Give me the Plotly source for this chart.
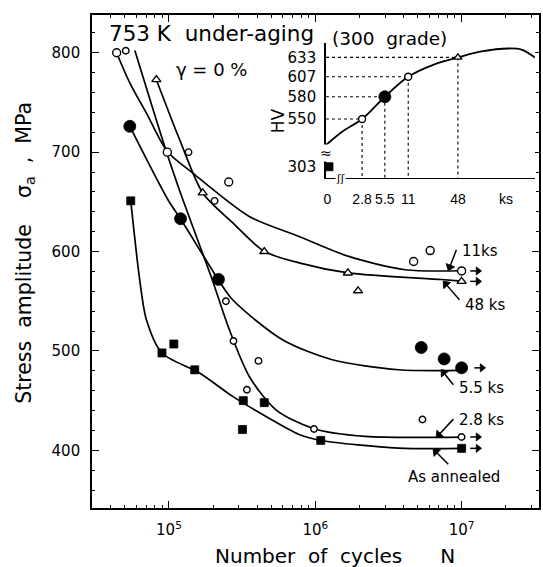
import math
import numpy as np
import plotly.graph_objects as go

# ---------------- main S-N data (measured points) ----------------
n_11ks = [43900, 97500, 256000, 4.7e6, 6.1e6, 1.0e7]
s_11ks = [800, 700, 670, 590, 601, 580.5]
n_28ks = [50700, 136000, 205000, 245000, 276000, 341000, 409000, 980000, 5.4e6, 1.0e7]
s_28ks = [802, 700, 651, 550, 510, 461, 490, 421.5, 431, 413.5]
n_48ks = [82000, 170000, 448000, 1.67e6, 1.96e6, 1.0e7]
s_48ks = [773, 659, 600, 578.5, 560.5, 570]
n_55ks = [54000, 120000, 218000, 5.3e6, 7.6e6, 1.0e7]
s_55ks = [726, 633, 572, 503.5, 492, 483]
n_ann = [54800, 89600, 108000, 150000, 318000, 322000, 448000, 1.09e6, 1.0e7]
s_ann = [651, 498, 507, 481, 421, 450, 448, 410, 402]

# ---------------- fitted S-N curves ----------------
cn_11ks = [43850, 54080, 70150, 97500, 145500, 354000, 774500, 1.694e6, 4.12e6, 1.0e7]
cs_11ks = [800, 769.5, 739.3, 700.7, 679, 635.3, 615.2, 595.1, 581.7, 580.7]
cn_28ks = [58480, 95940, 124500, 194100, 258800, 354000, 538300, 979500, 2.203e6, 1.0e7]
cs_28ks = [802.3, 700.7, 652.1, 574.9, 521.3, 474.3, 440.8, 421.7, 414, 413.4]
cn_48ks = [82030, 118300, 170200, 272300, 447700, 774500, 1.675e6, 7.26e6, 1.0e7]
cs_48ks = [772.9, 712.6, 659, 629.1, 600.3, 588.6, 578.6, 571.9, 570.2]
cn_55ks = [54080, 98400, 120200, 217800, 272300, 597000, 1.306e6, 3.707e6, 1.0e7]
cs_55ks = [725.9, 652.1, 632.7, 571.6, 551.5, 511.3, 491.2, 481.1, 480.4]
cn_ann = [54830, 63100, 70150, 89540, 161800, 272300, 460300, 774500, 1.099e6, 3.707e6, 1.0e7]
cs_ann = [650.8, 571.6, 531.4, 497.9, 477.8, 454.3, 434.1, 416, 409.9, 402.3, 401.9]

# ---------------- inset: hardness vs aging time ----------------
aging_ks = [0, 2.8, 5.5, 11, 48]
hv_vals = [303, 550, 580, 607, 633]
hv_curve_t = [0.96, 1.55, 2.8, 5.5, 11, 24.4, 48, 96.6, 214, 316, 470]
hv_curve = [515, 533, 550, 580, 607, 624, 633, 641, 645, 643.5, 633]
hv_break_offset = 182.8       # broken HV axis: 303 drawn just below the break
t_zero_pos = 1.05             # "0 ks" drawn at the break of the log time axis

x_ticks = [1e5, 1e6, 1e7]
x_ticktext = ["10<sup>5</sup>", "10<sup>6</sup>", "10<sup>7</sup>"]
y_ticks = [400, 500, 600, 700, 800]

# label pointers: tip on curve (N, S) and tail offset in pixels (right, down)
pointer_tips_N = [8.13e6, 7.52e6, 7.28e6, 6.73e6, 6.41e6]
pointer_tips_S = [581, 570, 481, 413, 401.2]
pointer_off = [(8, -20.7), (16, 18.3), (12, 15), (17, -18.3), (15, 15)]

# run-out arrows (unbroken at 1e7 cycles)
runout_N = [1.36e7, 1.36e7, 1.45e7, 1.36e7, 1.36e7]
runout_S = [s_11ks[-1], s_48ks[-1], s_55ks[-1], s_28ks[-1], s_ann[-1]]

FONT = "DejaVu Sans"
BLACK = "black"

# plot area in pixels
L, R, T, B = 92, 2, 15, 59
W, H = 543, 567
pw, ph = W - L - R, H - T - B
XR = [4.474, 7.529]
YR = [342, 838]
px_per_dec = pw / (XR[1] - XR[0])
px_per_mpa = ph / (YR[1] - YR[0])

fig = go.Figure()

def curve(n, s):
    fig.add_trace(go.Scatter(x=n, y=s, mode="lines",
                             line=dict(color=BLACK, width=1.7, shape="spline", smoothing=0.8),
                             hoverinfo="skip"))

for cn, cs in [(cn_11ks, cs_11ks), (cn_28ks, cs_28ks), (cn_48ks, cs_48ks),
               (cn_55ks, cs_55ks), (cn_ann, cs_ann)]:
    curve(cn, cs)

def pts(n, s, symbol, size, filled, xa="x", ya="y", angle=0):
    fig.add_trace(go.Scatter(
        x=n, y=s, mode="markers", xaxis=xa, yaxis=ya, hoverinfo="skip",
        marker=dict(symbol=symbol, size=size, opacity=1, angle=angle,
                    color=BLACK if filled else "white",
                    line=dict(color=BLACK, width=1.4 if not filled else 0.8))))

pts(n_11ks, s_11ks, "circle", 8, False)
pts(n_28ks, s_28ks, "circle", 6.5, False)
pts(n_48ks, s_48ks, "triangle-up", 8, False)
pts(n_55ks, s_55ks, "circle", 12, True)
pts(n_ann, s_ann, "square", 8, True)

def arrow(n_tip, s_tip, dx, dy, head=7):
    """dx, dy: pixel offset of the tail from the tip (right, down)."""
    length = math.hypot(dx, dy)
    ux, uy = -dx / length, -dy / length          # unit vector tail -> tip (screen)
    back = head * 0.45                           # centre of head slightly behind tip
    n_tail = n_tip * 10 ** (dx / px_per_dec)
    s_tail = s_tip - dy / px_per_mpa
    n_head = n_tip * 10 ** (-ux * back / px_per_dec)
    s_head = s_tip + uy * back / px_per_mpa
    n_line = n_tip * 10 ** (-ux * back * 1.2 / px_per_dec)
    s_line = s_tip + uy * back * 1.2 / px_per_mpa
    fig.add_trace(go.Scatter(x=[n_tail, n_line], y=[s_tail, s_line], mode="lines",
                             line=dict(color=BLACK, width=1.5), hoverinfo="skip"))
    ang = math.degrees(math.atan2(ux, -uy))
    pts([n_head], [s_head], "triangle-up", head, True, angle=ang)

for n, s, (dx, dy) in zip(pointer_tips_N, pointer_tips_S, pointer_off):
    arrow(n, s, dx, dy, 8)

for n, s in zip(runout_N, runout_S):
    arrow(n, s, -11, 0, 7)

# ---------------- inset traces ----------------
inset_xmin_log, inset_xmax_log = -0.018, 2.674
inset_ymin, inset_ymax = 470.2, 652.4
t_axis = 10 ** inset_xmin_log

for t, h in zip(aging_ks, hv_vals):
    if t == 0:
        continue
    fig.add_trace(go.Scatter(x=[t_axis, t], y=[h, h], mode="lines", xaxis="x2", yaxis="y2",
                             line=dict(color=BLACK, width=1.1, dash="dot"), hoverinfo="skip"))
    fig.add_trace(go.Scatter(x=[t, t], y=[h, inset_ymin], mode="lines", xaxis="x2", yaxis="y2",
                             line=dict(color=BLACK, width=1.1, dash="dot"), hoverinfo="skip"))

fig.add_trace(go.Scatter(x=hv_curve_t, y=hv_curve, mode="lines", xaxis="x2", yaxis="y2",
                         line=dict(color=BLACK, width=1.8, shape="spline"), hoverinfo="skip"))

inset_sym = ["square", "circle", "circle", "circle", "triangle-up"]
inset_size = [8, 7, 12, 7, 7]
inset_filled = [True, False, True, False, False]
for t, h, sym, sz, f in zip(aging_ks, hv_vals, inset_sym, inset_size, inset_filled):
    tx = t_zero_pos if t == 0 else t
    hy = h + hv_break_offset if t == 0 else h
    pts([tx], [hy], sym, sz, f, "x2", "y2")

# ---------------- layout ----------------
def px(x):
    return (x - L) / pw

def py(y):
    return (T + ph - y) / ph

fig.update_layout(
    width=W, height=H, margin=dict(l=L, r=R, t=T, b=B),
    paper_bgcolor="white", plot_bgcolor="white", showlegend=False,
    font=dict(family=FONT, color=BLACK),
    xaxis=dict(type="log", range=XR, tickvals=x_ticks, ticktext=x_ticktext,
               ticks="inside", ticklen=7, tickwidth=1.2, tickcolor=BLACK,
               showline=True, linecolor=BLACK, linewidth=1.6, mirror="ticks",
               showgrid=False, zeroline=False, tickfont=dict(size=15),
               ticklabelstandoff=7,
               minor=dict(ticks="inside", ticklen=3.5, dtick="D1", tickcolor=BLACK, showgrid=False)),
    yaxis=dict(range=YR, tickvals=y_ticks,
               ticks="inside", ticklen=7, tickwidth=1.2, tickcolor=BLACK,
               showline=True, linecolor=BLACK, linewidth=1.6, mirror="ticks",
               showgrid=False, zeroline=False, tickfont=dict(size=15),
               ticklabelstandoff=7,
               minor=dict(ticks="inside", ticklen=3.5, dtick=20, tickcolor=BLACK, showgrid=False)),
    xaxis2=dict(domain=[px(327), px(537)], anchor="y2", type="log",
                range=[inset_xmin_log, inset_xmax_log],
                tickvals=[1, 2.8, 5.5, 11, 48, 200], ticktext=["0", "2.8", "5.5", "11", "48", "ks"],
                tickangle=0,
                ticks="", showline=True, linecolor=BLACK, linewidth=1.3, showgrid=False,
                zeroline=False, tickfont=dict(size=14, family="Liberation Sans"),
                ticklabelstandoff=8),
    yaxis2=dict(domain=[py(178.3), py(43)], anchor="x2", range=[inset_ymin, inset_ymax],
                tickvals=[633, 607, 580, 550, 303 + hv_break_offset],
                ticktext=["633", "607", "580", "550", "303"],
                ticks="", showline=True, linecolor=BLACK, linewidth=1.5, showgrid=False,
                zeroline=False, tickfont=dict(size=15), ticklabelstandoff=5),
)

ann = []
def text(x, y, s, size, xanchor="center", angle=0):
    ann.append(dict(xref="paper", yref="paper", x=px(x), y=py(y), text=s, showarrow=False,
                    xanchor=xanchor, yanchor="middle", textangle=angle,
                    font=dict(size=size, family=FONT, color=BLACK)))

nb = "\u00a0"
text(107, 34, "753 K" + nb * 2 + "under-aging", 21.5, "left")
text(331, 38.5, "(300" + nb * 2 + "grade)", 18.5, "left")
text(212.5, 69.5, "γ = 0 %", 18)
text(279, 121, "HV", 17, angle=-90)
text(24, 252.5, "Stress" + nb * 2 + "amplitude" + nb * 4 + "σ<sub>a</sub>" + nb * 2 + "," + nb * 2 + "MPa",
     20.5, angle=-90)
text(336.5, 556, "Number" + nb * 2 + "of" + nb * 2 + "cycles" + nb * 6 + "N", 20)
text(482, 251, "11ks", 15)
text(487.5, 305.3, "48 ks", 15)
text(483, 388, "5.5 ks", 15)
text(483, 419.5, "2.8 ks", 15)
text(455.7, 476.7, "As annealed", 15)

# axis-break symbols in the inset
ann.append(dict(xref="x2", yref="y2", x=np.log10(t_axis), y=504.3, text="≈", showarrow=False,
                font=dict(size=14, family=FONT, color=BLACK), bgcolor="white", borderpad=0))
ann.append(dict(xref="x2", yref="y2", x=np.log10(1.48), y=inset_ymin, text="ʃʃ", showarrow=False,
                font=dict(size=11, family=FONT, color=BLACK), bgcolor="white", borderpad=0))

fig.update_layout(annotations=ann)
fig.write_html("out.html")
